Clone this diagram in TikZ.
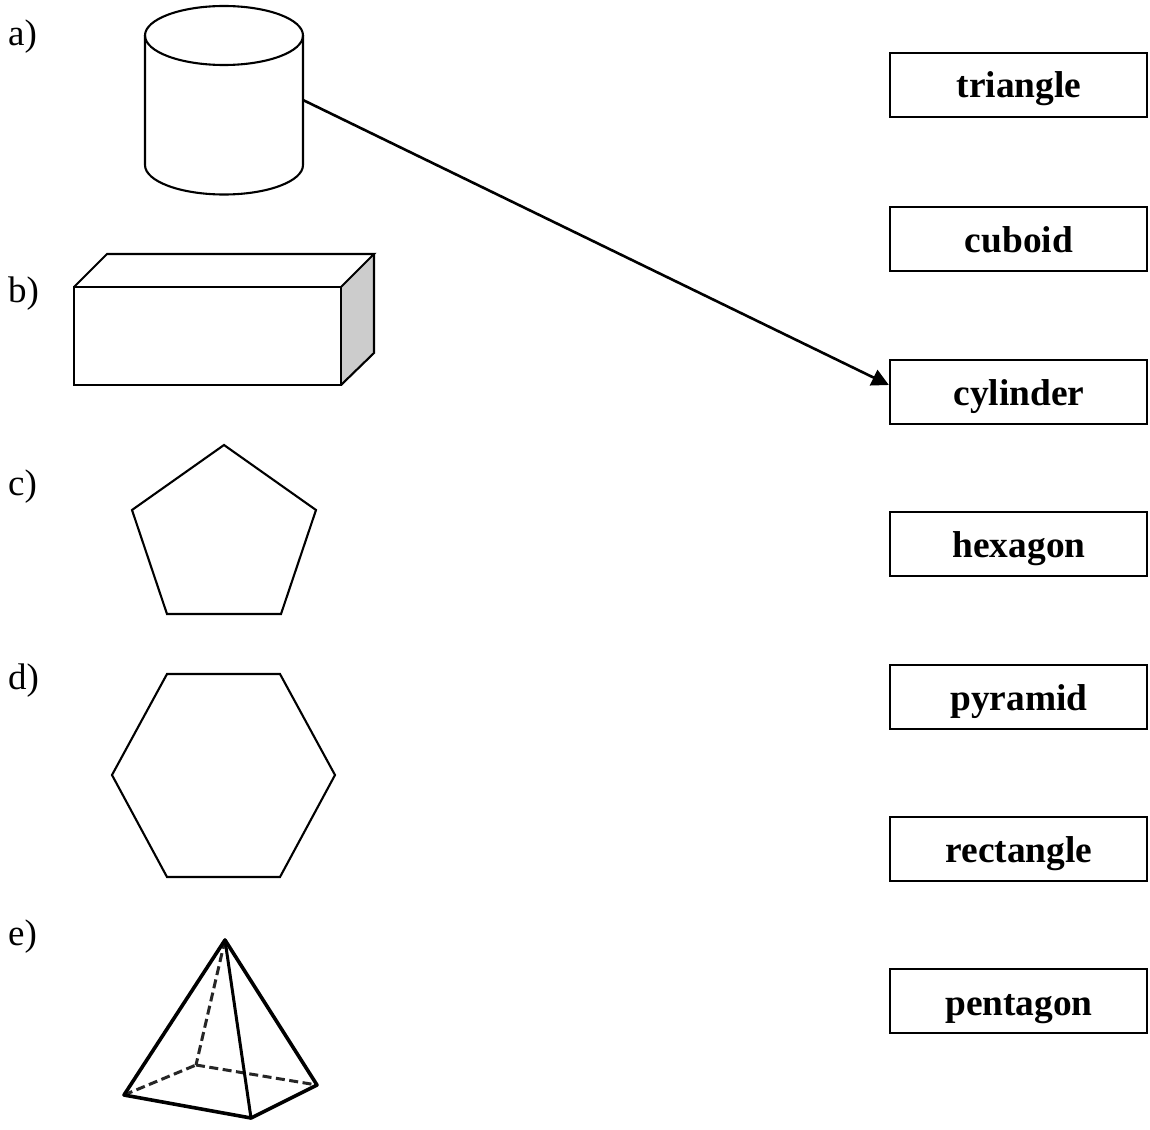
\documentclass[tikz,border=0pt]{standalone}
\usepackage{fontspec}
\setmainfont{Liberation Serif}
\usetikzlibrary{arrows.meta}
\tikzset{
  shapeline/.style={draw=black,line width=2.1pt,line join=miter},
  answerbox/.style={draw=black,line width=2.3pt,minimum width=257pt,minimum height=64pt,inner sep=0pt},
  answertext/.style={anchor=base,inner sep=0pt,font=\fontsize{37.4}{37.4}\selectfont\bfseries},
  letterlabel/.style={anchor=base west,inner sep=0pt,font=\fontsize{37}{37}\selectfont},
  solidedge/.style={draw=black,line width=3.6pt,line join=round,line cap=round},
  hiddenedge/.style={draw=black!85,line width=3pt,dash pattern=on 9pt off 4.5pt},
  link/.style={draw=black,line width=2.6pt,-{Triangle[length=17pt,width=17pt]}}
}
\begin{document}
\begin{tikzpicture}[x=1pt,y=-1pt]
\useasboundingbox (0,0) rectangle (1150,1129);
\fill[white] (0,0) rectangle (1150,1129);

% letters
\node[letterlabel] (la) at (8,46) {a)};
\node[letterlabel] (lb) at (8,302) {b)};
\node[letterlabel] (lc) at (8,495) {c)};
\node[letterlabel] (ld) at (8,689) {d)};
\node[letterlabel] (le) at (8,945) {e)};

% cylinder
\draw[shapeline] (224,35.5) ellipse [x radius=79, y radius=29.5];
\draw[shapeline] (145,35.5) -- (145,165) arc[start angle=180,end angle=360,x radius=79,y radius=-29.5] -- (303,35.5);

% cuboid
\fill[black!20] (341,287) -- (374,254) -- (374,353) -- (341,385) -- cycle;
\draw[shapeline] (74,287) rectangle (341,385);
\draw[shapeline] (74,287) -- (107,254) -- (374,254) -- (341,287);
\draw[shapeline] (374,254) -- (374,353) -- (341,385);

% pentagon
\draw[shapeline] (224,445) -- (316,510) -- (281,614) -- (167,614) -- (132,510) -- cycle;

% hexagon
\draw[shapeline] (167,674) -- (280,674) -- (335,775) -- (280,877) -- (167,877) -- (112,775) -- cycle;

% pyramid
\coordinate (apex) at (225,940);
\coordinate (pl) at (124,1095);
\coordinate (pf) at (251,1118);
\coordinate (pr) at (317,1085);
\coordinate (pb) at (196,1065);
\draw[hiddenedge] (apex) -- (pb);
\draw[hiddenedge] (pl) -- (pb);
\draw[hiddenedge] (pb) -- (pr);
\draw[solidedge] (apex) -- (pl) -- (pf) -- (pr) -- cycle;
\draw[solidedge,line width=3pt] (apex) -- (pf);

% answer boxes
\node[answerbox] (b1) at (1018.5,85) {};
\node[answerbox] (b2) at (1018.5,239) {};
\node[answerbox] (b3) at (1018.5,392) {};
\node[answerbox] (b4) at (1018.5,544) {};
\node[answerbox] (b5) at (1018.5,697) {};
\node[answerbox] (b6) at (1018.5,849) {};
\node[answerbox] (b7) at (1018.5,1001) {};
\node[answertext] (t1) at (1019,98) {triangle};
\node[answertext] (t2) at (1019,252) {cuboid};
\node[answertext] (t3) at (1019,405) {cylinder};
\node[answertext] (t4) at (1019,557) {hexagon};
\node[answertext] (t5) at (1019,710) {pyramid};
\node[answertext] (t6) at (1019,862) {rectangle};
\node[answertext] (t7) at (1019,1015) {pentagon};

% connector
\coordinate (cylside) at (303,100);
\coordinate (cyltarget) at ([yshift=7pt]b3.west);
\draw[link] (cylside) -- (cyltarget);
\end{tikzpicture}
\end{document}
